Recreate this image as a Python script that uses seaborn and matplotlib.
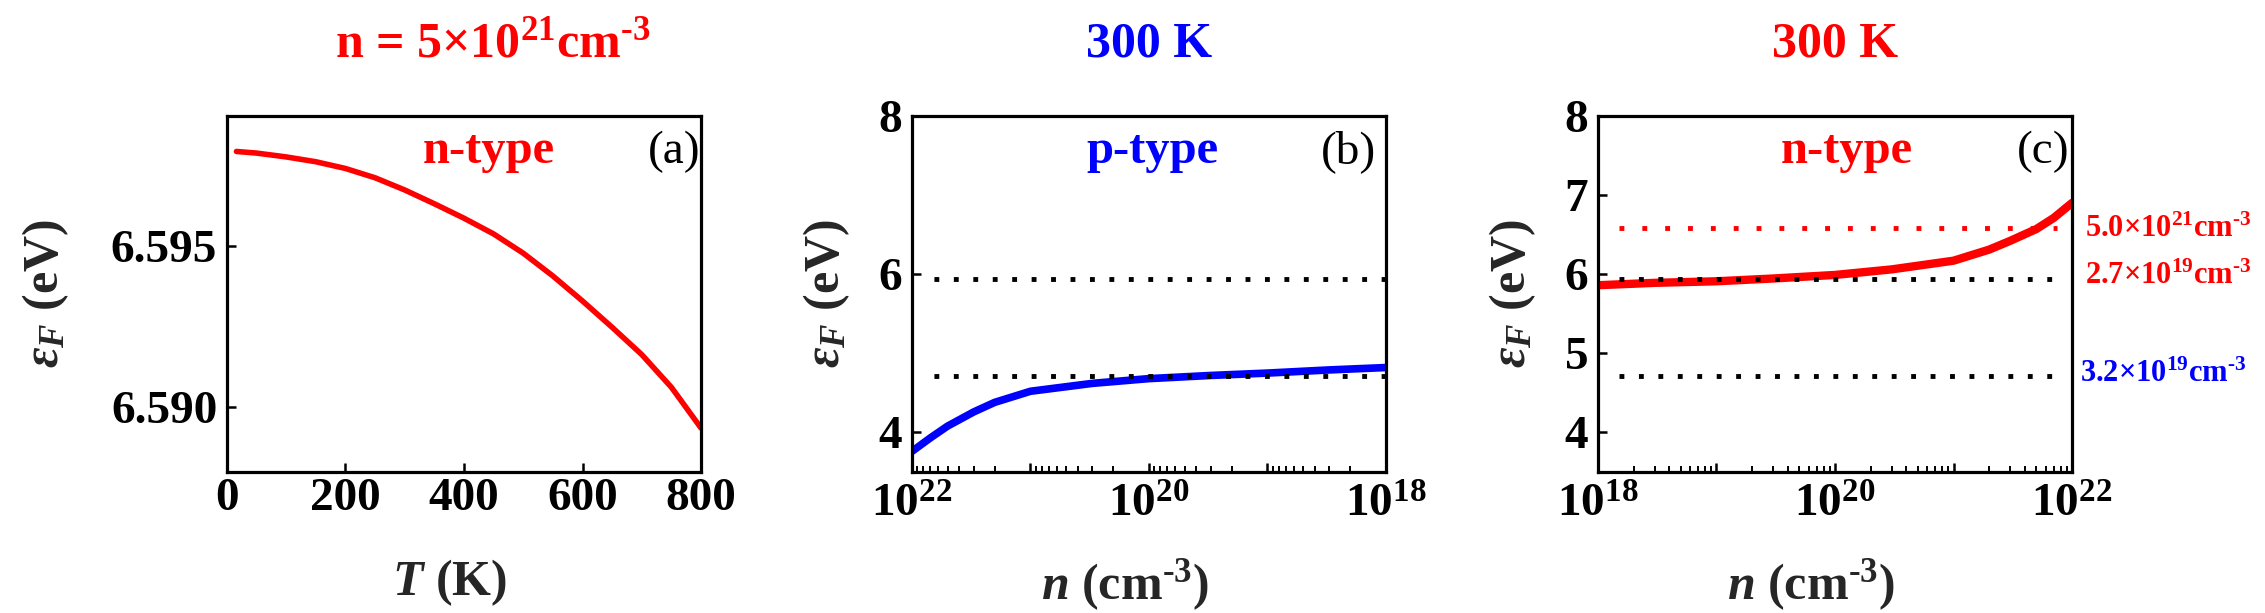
import numpy as np
import seaborn as sns
import matplotlib.pyplot as plt
import matplotlib.transforms as mtransforms
from matplotlib.ticker import LogLocator, NullFormatter

# data
T_a = [16, 50, 100, 150, 200, 250, 300, 350, 400, 450, 500, 550, 600, 650, 700, 750, 800]
Ef_a = [6.59795, 6.59790, 6.59778, 6.59763, 6.59742, 6.59713, 6.59675, 6.59632, 6.59587,
        6.59538, 6.59478, 6.59407, 6.59329, 6.59247, 6.59162, 6.59060, 6.58933]

n_b = [1e18, 3e18, 1e19, 3e19, 1e20, 3e20, 1e21, 2e21, 3e21, 5e21, 7e21, 1e22]
Ef_b = [4.82, 4.79, 4.75, 4.72, 4.68, 4.62, 4.52, 4.38, 4.26, 4.08, 3.93, 3.76]

n_c = [1e18, 3e18, 1e19, 3e19, 1e20, 3e20, 1e21, 2e21, 3e21, 5e21, 7e21, 1e22]
Ef_c = [5.86, 5.89, 5.91, 5.945, 5.99, 6.06, 6.17, 6.31, 6.42, 6.57, 6.71, 6.90]

# reference levels (eV)
lvl_n = 6.585
lvl_mid = 5.94
lvl_p = 4.71
lvl_labels = [r"5.0×10$^{21}$cm$^{\text{-3}}$", r"2.7×10$^{19}$cm$^{\text{-3}}$",
              r"3.2×10$^{19}$cm$^{\text{-3}}$"]

RED = "#ff0000"
BLUE = "#0000ff"

sns.set_theme(style="white")
plt.rcParams["font.family"] = ["Liberation Serif", "DejaVu Serif"]
plt.rcParams["font.weight"] = "bold"
plt.rcParams["mathtext.fontset"] = "custom"
plt.rcParams["mathtext.rm"] = "Liberation Serif:bold"
plt.rcParams["mathtext.it"] = "Liberation Serif:italic:bold"
plt.rcParams["mathtext.bf"] = "Liberation Serif:bold"
plt.rcParams["mathtext.default"] = "regular"

fig = plt.figure(figsize=(22.65, 6.13), dpi=100)
lefts = [0.1002, 0.4026, 0.7055]
axes = [fig.add_axes([l, 0.230, 0.2093, 0.581]) for l in lefts]

tick_fs = 34
lab_fs = 36
ylab = r"$\mathit{\varepsilon}_{\mathit{F}}$ (eV)"


def style_ticks(ax, xpad):
    for s in ax.spines.values():
        s.set_linewidth(2.3)
        s.set_color("black")
    ax.tick_params(which="both", direction="in", top=False, right=False,
                   left=True, bottom=True, colors="black", labelsize=tick_fs)
    ax.tick_params(which="major", length=6.5, width=1.8, pad=7)
    ax.tick_params(which="minor", length=4, width=1.4)
    ax.tick_params(axis="x", which="major", pad=xpad)
    for lab in ax.get_xticklabels() + ax.get_yticklabels():
        lab.set_fontweight("bold")


def dotted(ax, x0, x1, y, color, gap):
    ax.plot([x0, x1], [y, y], color=color, lw=3.5, linestyle=(0, (1, gap)), zorder=3)


# (a)
ax = axes[0]
sns.lineplot(x=T_a, y=Ef_a, ax=ax, color=RED, linewidth=4)
ax.set_xlim(0, 800)
ax.set_ylim(6.58796, 6.59906)
ax.set_xticks([0, 200, 400, 600, 800])
ax.set_yticks([6.590, 6.595])
ax.set_yticklabels(["6.590", "6.595"])
style_ticks(ax, 4)
ax.set_xlabel(r"$\mathit{T}$ (K)", fontsize=lab_fs, fontweight="bold")
ax.set_ylabel(ylab, fontsize=lab_fs, fontweight="bold")
ax.xaxis.set_label_coords(0.47, -0.24)
ax.yaxis.set_label_coords(-0.33, 0.5)
ax.text(0.56, 1.20, r"n = 5×10$^{21}$cm$^{\text{-3}}$", transform=ax.transAxes, color=RED,
        fontsize=36, fontweight="bold", ha="center", va="center")
ax.text(0.553, 0.90, "n-type", transform=ax.transAxes, color=RED,
        fontsize=35, fontweight="bold", ha="center", va="center")
ax.text(0.943, 0.90, "(a)", transform=ax.transAxes, color="black",
        fontsize=34, fontweight="normal", ha="center", va="center")

# (b)
ax = axes[1]
sns.lineplot(x=n_b, y=Ef_b, ax=ax, color=BLUE, linewidth=5.5)
dotted(ax, 1e18, 7.3e21, lvl_mid, "black", 3)
dotted(ax, 1e18, 7.3e21, lvl_p, "black", 3)

# (c)
ax = axes[2]
sns.lineplot(x=n_c, y=Ef_c, ax=ax, color=RED, linewidth=6)
dotted(ax, 1.5e18, 7.5e21, lvl_n, RED, 3.7)
dotted(ax, 1.5e18, 8e21, lvl_mid, "black", 3)
dotted(ax, 1.5e18, 8e21, lvl_p, "black", 3)

# shared log-axis settings for (b) and (c)
dec = [1e18, 1e19, 1e20, 1e21, 1e22]
dec_labels = [r"10$^{18}$", "", r"10$^{20}$", "", r"10$^{22}$"]
for ax in axes[1:]:
    ax.set_xscale("log")
    ax.set_ylim(3.5, 8)
    ax.set_xticks(dec)
    ax.set_xticklabels(dec_labels)
    ax.xaxis.set_minor_locator(LogLocator(base=10, subs=np.arange(2, 10), numticks=50))
    ax.xaxis.set_minor_formatter(NullFormatter())
    style_ticks(ax, 9)
    ax.set_xlabel(r"$\mathit{n}$ (cm$^{\text{-3}}$)", fontsize=lab_fs, fontweight="bold")
    ax.set_ylabel(ylab, fontsize=lab_fs, fontweight="bold")
    ax.xaxis.set_label_coords(0.45, -0.24)
    ax.yaxis.set_label_coords(-0.126, 0.5)

ax = axes[1]
ax.set_xlim(1e22, 1e18)
ax.set_yticks([4, 6, 8])
ax.text(0.5, 1.20, "300 K", transform=ax.transAxes, color=BLUE,
        fontsize=36, fontweight="bold", ha="center", va="center")
ax.text(0.507, 0.90, "p-type", transform=ax.transAxes, color=BLUE,
        fontsize=35, fontweight="bold", ha="center", va="center")
ax.text(0.922, 0.90, "(b)", transform=ax.transAxes, color="black",
        fontsize=34, fontweight="normal", ha="center", va="center")

ax = axes[2]
ax.set_xlim(1e18, 1e22)
ax.set_yticks([4, 5, 6, 7, 8])
ax.text(0.5, 1.20, "300 K", transform=ax.transAxes, color=RED,
        fontsize=36, fontweight="bold", ha="center", va="center")
ax.text(0.525, 0.90, "n-type", transform=ax.transAxes, color=RED,
        fontsize=35, fontweight="bold", ha="center", va="center")
ax.text(0.94, 0.90, "(c)", transform=ax.transAxes, color="black",
        fontsize=34, fontweight="normal", ha="center", va="center")
trans = mtransforms.blended_transform_factory(ax.transAxes, ax.transData)
for xf, yv, txt, col in zip([1.027, 1.027, 1.017], [6.57, 5.97, 4.73], lvl_labels, [RED, RED, BLUE]):
    ax.text(xf, yv, txt, transform=trans, color=col, fontsize=22,
            fontweight="bold", ha="left", va="center")

fig.savefig("out.png", dpi=100)
